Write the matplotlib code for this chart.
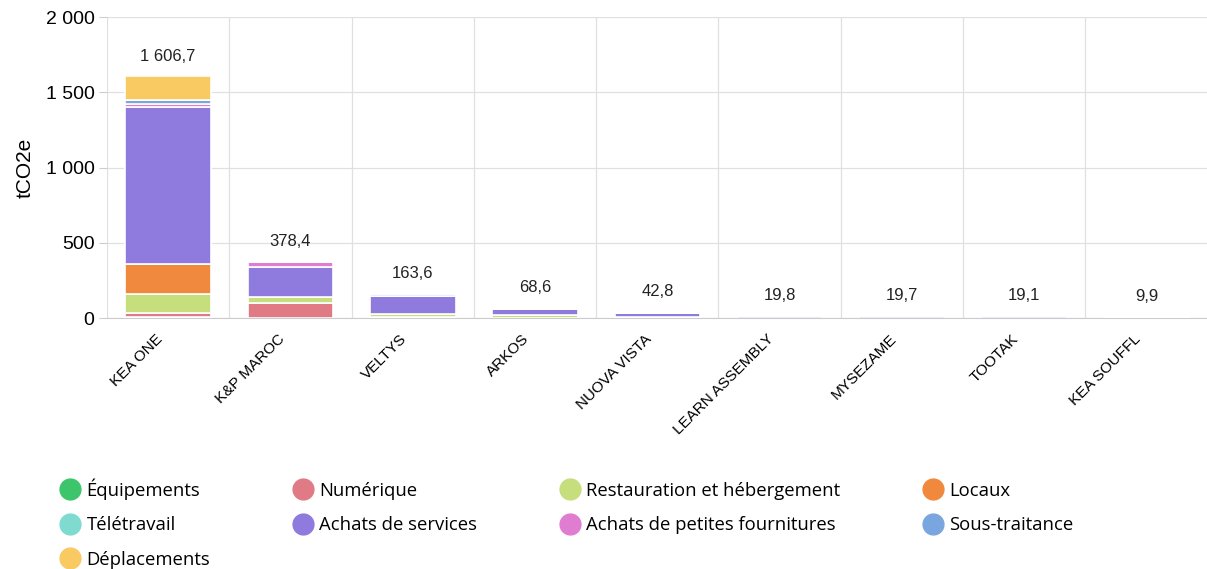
import numpy as np
import matplotlib.pyplot as plt
import matplotlib.transforms as mtransforms
from matplotlib.lines import Line2D
from matplotlib.ticker import FuncFormatter, FixedLocator

companies = ["KEA ONE", "K&P MAROC", "VELTYS", "ARKOS", "NUOVA VISTA",
             "LEARN ASSEMBLY", "MYSEZAME", "TOOTAK", "KEA SOUFFL"]

# tCO2e per poste, per company
equipements = [5, 2, 1, 0.5, 0.5, 0.3, 0.2, 0.2, 0.1]
numerique = [28, 95, 4, 3, 2, 1, 1, 1, 0.5]
restauration = [130, 40, 20, 14, 1, 0.5, 0.5, 0.3, 0.3]
locaux = [195, 1, 0.5, 0.5, 0.3, 0.3, 0.3, 0.3, 0.3]
teletravail = [3, 1, 0.5, 0.5, 0.5, 0.5, 0.5, 0.3, 0.2]
achats_services = [1040, 200, 118, 40, 30, 12, 14, 14, 6]
petites_fournitures = [22, 33, 1, 0.5, 0.5, 0.2, 0.2, 0.2, 0.1]
sous_traitance = [24, 3, 12, 3, 2, 1, 1, 0.5, 0.4]
deplacements = [159.7, 3.4, 6.6, 6.6, 6.0, 4.0, 2.0, 2.3, 2.0]

series = [
    ("Équipements", equipements, "#3cc56b"),
    ("Numérique", numerique, "#e07b86"),
    ("Restauration et hébergement", restauration, "#c6de7c"),
    ("Locaux", locaux, "#f0893d"),
    ("Télétravail", teletravail, "#7fdbd0"),
    ("Achats de services", achats_services, "#8f7ade"),
    ("Achats de petites fournitures", petites_fournitures, "#e07dd0"),
    ("Sous-traitance", sous_traitance, "#7aa6df"),
    ("Déplacements", deplacements, "#f9c962"),
]


def fr(v, dec=0):
    s = f"{v:,.{dec}f}"
    return s.replace(",", " ").replace(".", ",")


plt.rcParams["font.family"] = ["Liberation Sans", "DejaVu Sans"]

fig = plt.figure(figsize=(12.07, 5.69), dpi=100)
ax = fig.add_axes([0.0886, 0.441, 0.912, 0.529])

x = np.arange(len(companies))
bottom = np.zeros(len(companies))
for name, vals, col in series:
    vals = np.array(vals, dtype=float)
    ax.bar(x, vals, bottom=bottom, width=0.7, color=col,
           edgecolor="white", linewidth=1.2, zorder=3)
    bottom += vals

for xi, tot in zip(x, bottom):
    ax.annotate(fr(tot, 1), (xi, tot), xytext=(0, 9), textcoords="offset points",
                ha="center", va="bottom", fontsize=12, color="#222222")

ax.set_xlim(-0.5, len(companies) - 0.5)
ax.set_ylim(0, 2000)
ax.set_yticks([0, 500, 1000, 1500, 2000])
ax.yaxis.set_major_formatter(FuncFormatter(lambda v, p: fr(v)))
ax.tick_params(axis="y", labelsize=14, length=6, color="#cccccc", pad=3)
ax.set_ylabel("tCO2e", fontsize=15, labelpad=8)

ax.set_xticks(x)
ax.set_xticklabels(companies, rotation=45, ha="right", rotation_mode="anchor",
                   fontsize=11)
ax.tick_params(axis="x", length=0, pad=10)
shift = mtransforms.ScaledTranslation(-13 / 100, 0, fig.dpi_scale_trans)
for lab in ax.get_xticklabels():
    lab.set_transform(lab.get_transform() + shift)

ax.xaxis.set_minor_locator(FixedLocator(np.arange(-0.5, len(companies), 1)))
ax.tick_params(axis="x", which="minor", length=0)
ax.grid(axis="x", which="minor", color="#e0e0e0", linewidth=0.9, zorder=0)
ax.grid(axis="y", which="major", color="#e0e0e0", linewidth=0.9, zorder=0)

for s in ["top", "right", "left"]:
    ax.spines[s].set_visible(False)
ax.spines["bottom"].set_color("#cccccc")

# legend filled row by row: reorder for matplotlib's column-first fill
order = [0, 4, 8, 1, 5, 2, 6, 3, 7]
handles = [Line2D([], [], marker="o", linestyle="", markersize=15,
                  markerfacecolor=series[i][2], markeredgecolor=series[i][2])
           for i in order]
labels = [series[i][0] for i in order]
fig.legend(handles, labels, ncol=4, loc="upper left", bbox_to_anchor=(0.0365, 0.189),
           frameon=False, columnspacing=4.5, handlelength=1.0, handletextpad=0.4,
           labelspacing=0.9, prop={"family": ["Open Sans", "DejaVu Sans"], "size": 13.3})

fig.savefig("out.png", dpi=100)
